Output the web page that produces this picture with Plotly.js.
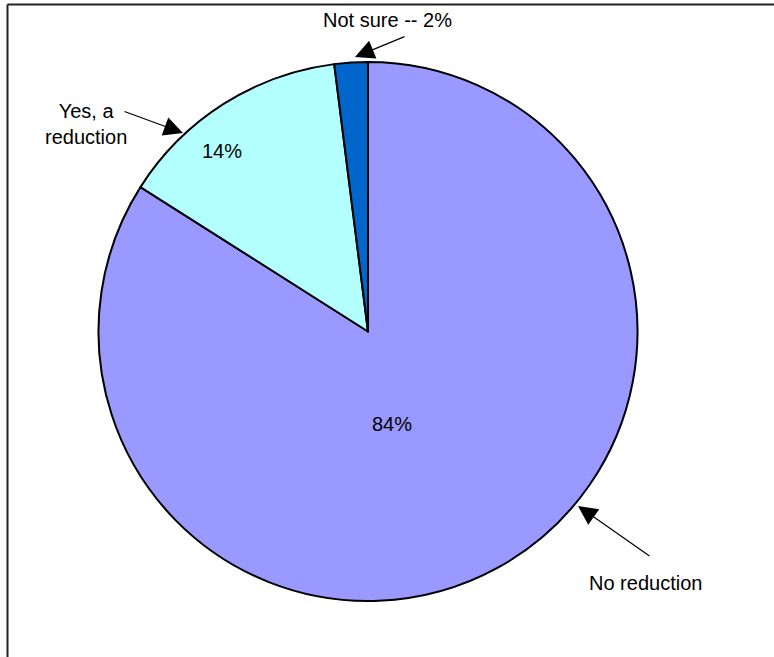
<!DOCTYPE html>
<html>
<head>
<meta charset="utf-8">
<script src="https://cdn.plot.ly/plotly-3.0.1.min.js"></script>
<style>html,body{margin:0;padding:0;background:#fff;}#chart{width:774px;height:657px;}</style>
</head>
<body>
<div id="chart"></div>
<script>
const labels = ["No reduction", "Yes, a reduction", "Not sure"];
const values = [84, 14, 2];
const sliceColors = ["#9999FF", "#B3FFFF", "#0066CC"];

const W = 774, H = 657;
const px = x => x / W;
const py = y => 1 - y / H;
const FONT = {family: "Liberation Sans, Arial, sans-serif", size: 20, color: "#000"};

const trace = {
  type: "pie",
  labels: labels,
  values: values,
  sort: false,
  direction: "clockwise",
  rotation: 0,
  marker: {colors: sliceColors, line: {color: "#000", width: 2}},
  textinfo: "none",
  hoverinfo: "label+percent",
  showlegend: false,
  domain: {x: [px(98), px(638)], y: [py(601), py(62)]}
};

function textAnn(text, x, y) {
  return {text: text, xref: "paper", yref: "paper", x: px(x), y: py(y),
          xanchor: "center", yanchor: "middle", showarrow: false, font: FONT, align: "center"};
}
function arrowAnn(tipX, tipY, tailX, tailY) {
  return {text: "", xref: "paper", yref: "paper", x: px(tipX), y: py(tipY),
          ax: tailX - tipX, ay: tailY - tipY, showarrow: true,
          arrowhead: 2, arrowsize: 3.2, arrowwidth: 1.2, arrowcolor: "#000", standoff: 0, startstandoff: 0};
}

const layout = {
  width: W, height: H,
  margin: {l: 0, r: 0, t: 0, b: 0},
  paper_bgcolor: "#fff",
  showlegend: false,
  annotations: [
    textAnn(values[0] + "%", 392, 424),
    textAnn(values[1] + "%", 222, 151),
    textAnn(labels[2] + " -- " + values[2] + "%", 387, 20),
    textAnn("Yes, a<br>reduction", 86, 124),
    textAnn(labels[0], 645, 583),
    arrowAnn(355, 57, 406, 36),
    arrowAnn(183, 133, 123, 111),
    arrowAnn(578, 506, 651, 557)
  ],
  shapes: [
    {type: "line", xref: "paper", yref: "paper", x0: px(7.5), x1: 1.01, y0: py(4.5), y1: py(4.5), line: {color: "#222", width: 2}},
    {type: "line", xref: "paper", yref: "paper", x0: px(7.5), x1: px(7.5), y0: py(4.5), y1: -0.01, line: {color: "#222", width: 2}}
  ]
};

Plotly.newPlot("chart", [trace], layout, {displayModeBar: false, staticPlot: true});
</script>
</body>
</html>
